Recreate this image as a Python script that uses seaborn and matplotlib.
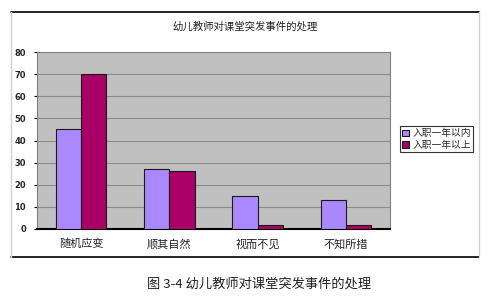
import matplotlib
matplotlib.use("Agg")
import matplotlib.pyplot as plt
import seaborn as sns
import pandas as pd
from matplotlib.lines import Line2D

categories = ["随机应变", "顺其自然", "视而不见", "不知所措"]
series_names = ["入职一年以内", "入职一年以上"]
within_one_year = [45, 27, 15, 13]
over_one_year = [70, 26, 2, 2]
yticks = [0, 10, 20, 30, 40, 50, 60, 70, 80]
title = "幼儿教师对课堂突发事件的处理"
caption = "图 3-4 幼儿教师对课堂突发事件的处理"
colors = ["#AA88FF", "#AA0066"]

sns.set_style("white")
plt.rcParams['font.family'] = ['Noto Sans CJK SC', 'DejaVu Sans']

df = pd.DataFrame({
    "category": categories * 2,
    "series": [series_names[0]] * 4 + [series_names[1]] * 4,
    "value": within_one_year + over_one_year,
})

W, H = 494, 303
fig = plt.figure(figsize=(W / 100, H / 100), dpi=100)
fig.patch.set_facecolor("white")

ax = fig.add_axes([37 / W, 1 - 229 / H, (390 - 37) / W, (229 - 52) / H])
ax.set_facecolor("#C0C0C0")
sns.barplot(data=df, x="category", y="value", hue="series", order=categories,
            hue_order=series_names, palette=colors, saturation=1, width=0.57, gap=0,
            edgecolor="#1a1a1a", linewidth=0.8, ax=ax, zorder=3)

ax.set_ylim(0, 80)
ax.set_xlim(-0.5, 3.5)
ax.set_yticks(yticks)
ax.set_yticklabels([str(v) for v in yticks], fontsize=6, fontweight="bold",
                   family="DejaVu Sans")
ax.yaxis.grid(True, color="#8C8C8C", linewidth=0.8, zorder=0)
ax.set_axisbelow(True)
ax.tick_params(axis="y", length=2, width=0.8, color="black", pad=6, left=True)
ax.tick_params(axis="x", length=0, pad=7, labelsize=8, labelcolor="#222222")
ax.set_xlabel("")
ax.set_ylabel("")
for s in ["top", "right"]:
    ax.spines[s].set_color("#808080")
    ax.spines[s].set_linewidth(0.8)
ax.spines["left"].set_color("#808080")
ax.spines["left"].set_linewidth(0.8)
ax.spines["bottom"].set_color("black")
ax.spines["bottom"].set_linewidth(1.5)

handles, labels = ax.get_legend_handles_labels()
if ax.get_legend() is not None:
    ax.get_legend().remove()
leg = fig.legend(handles, labels, loc="upper left",
                 bbox_to_anchor=(400 / W, 1 - 126 / H), frameon=True,
                 fancybox=False, edgecolor="black", fontsize=7,
                 handlelength=0.7, handleheight=0.7, handletextpad=0.3,
                 borderpad=0.25, labelspacing=0.15, borderaxespad=0)
leg.get_frame().set_linewidth(0.8)

fig.text(245 / W, 1 - 26 / H, title, ha="center", va="center", fontsize=7.5,
         color="#222222")
fig.text(259 / W, 1 - 284 / H, caption, ha="center", va="center", fontsize=9.5,
         color="#222222")

# outer chart frame
fig.add_artist(Line2D([11 / W, 479 / W], [1 - 12 / H, 1 - 12 / H], color="black", lw=1.2))
fig.add_artist(Line2D([11 / W, 479 / W], [1 - 257 / H, 1 - 257 / H], color="black", lw=1.2))
fig.add_artist(Line2D([11 / W, 11 / W], [1 - 12 / H, 1 - 257 / H], color="#D0D0D0", lw=1))
fig.add_artist(Line2D([479 / W, 479 / W], [1 - 12 / H, 1 - 257 / H], color="#D0D0D0", lw=1))

fig.savefig("out.png", dpi=100)
